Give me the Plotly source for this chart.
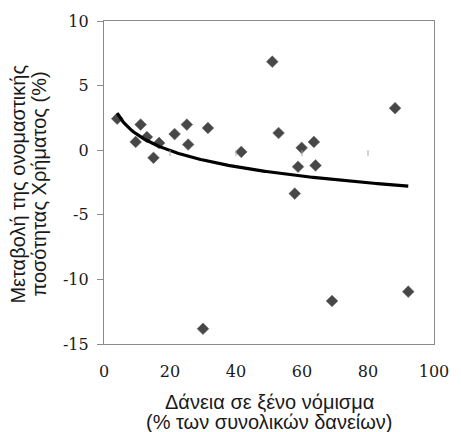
import numpy as np
import plotly.graph_objects as go

# Foreign-currency loans (% of total loans) vs change in nominal money supply (%)
fx_loans_share = [4.0, 11.1, 9.6, 13.0, 16.7, 15.0, 21.4, 25.1, 25.5, 31.5, 41.6,
                  51.0, 52.9, 59.9, 63.6, 58.8, 64.1, 57.8, 88.2, 30.0, 69.1, 92.2]
money_change = [2.44, 1.98, 0.64, 1.02, 0.56, -0.59, 1.25, 1.98, 0.44, 1.72, -0.13,
                6.85, 1.33, 0.18, 0.64, -1.28, -1.18, -3.36, 3.25, -13.82, -11.67, -10.95]

x_ticks = [0, 20, 40, 60, 80, 100]
y_ticks = [-15, -10, -5, 0, 5, 10]
x_tick_labels = [str(v) for v in x_ticks]
y_tick_labels = [str(v) for v in y_ticks]

x_title_lines = ["Δάνεια σε ξένο νόμισμα", "(% των συνολικών δανείων)"]
y_title_lines = ["Μεταβολή της ονομαστικής", "ποσότητας Χρήματος (%)"]

# Logarithmic trend line fitted to the points
xs = np.array(fx_loans_share)
ys = np.array(money_change)
slope, intercept = np.polyfit(np.log(xs), ys, 1)
trend_x = np.linspace(xs.min(), xs.max(), 200)
trend_y = intercept + slope * np.log(trend_x)

fig = go.Figure()
fig.add_trace(go.Scatter(
    x=fx_loans_share, y=money_change, mode="markers",
    marker=dict(symbol="diamond", size=9, color="#474747",
                line=dict(width=0.6, color="#6a6a6a")),
    showlegend=False,
))
fig.add_trace(go.Scatter(
    x=trend_x, y=trend_y, mode="lines",
    line=dict(color="#000000", width=3.2),
    showlegend=False,
))

# small category ticks where the horizontal axis crosses zero
for t in x_ticks[1:-1]:
    fig.add_shape(type="line", xref="x", yref="y", x0=t, x1=t, y0=0, y1=-0.45,
                  line=dict(color="#a8a8a8", width=1))

serif = "DejaVu Serif"
sans = "Liberation Sans"
title_font = dict(family=sans, size=20, color="#1a1a1a")

annotations = []
for i, line in enumerate(x_title_lines):
    annotations.append(dict(text=line, xref="paper", yref="paper", x=0.5, y=0,
                            xanchor="center", yanchor="middle", yshift=-58 - 20 * i,
                            showarrow=False, font=title_font))
for i, line in enumerate(y_title_lines):
    annotations.append(dict(text=line, xref="paper", yref="paper", x=0, y=0.495,
                            xanchor="center", yanchor="middle", xshift=-85.5 + 21 * i,
                            textangle=-90, showarrow=False, font=title_font))

fig.update_layout(
    width=461, height=432,
    margin=dict(l=103.5, r=13, t=19, b=88),
    plot_bgcolor="white", paper_bgcolor="white",
    font=dict(family=serif, size=16, color="#1a1a1a"),
    xaxis=dict(range=[0, 100], tickvals=x_ticks, ticktext=x_tick_labels, ticks="",
               showgrid=False, zeroline=False, showline=True, linecolor="#8a8a8a",
               linewidth=1.3, mirror=True, ticklabeloverflow="allow",
               tickfont=dict(family=serif, size=16, color="#1a1a1a"),
               ticklabelstandoff=13),
    yaxis=dict(range=[-15, 10], tickvals=y_ticks, ticktext=y_tick_labels,
               ticks="outside", ticklen=6, tickcolor="#8a8a8a", showgrid=False,
               zeroline=False, showline=True, linecolor="#8a8a8a", linewidth=1.3,
               mirror=True, tickfont=dict(family=serif, size=16, color="#1a1a1a"),
               ticklabelstandoff=5),
    annotations=annotations,
)

fig.write_html("out.html")
